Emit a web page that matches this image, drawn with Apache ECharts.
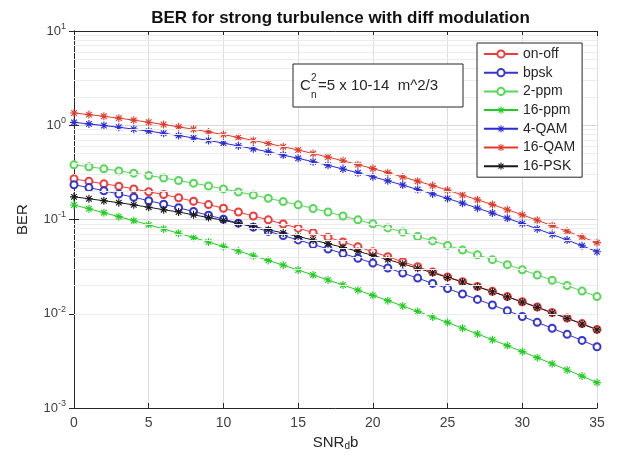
<!DOCTYPE html>
<html>
<head>
<meta charset="utf-8">
<script src="https://cdn.jsdelivr.net/npm/echarts@6/dist/echarts.min.js"></script>
<style>html,body{margin:0;padding:0;background:#fff}#c{width:621px;height:459px}</style>
</head>
<body>
<div id="c"></div>
<script>
const snr = [0,1,2,3,4,5,6,7,8,9,10,11,12,13,14,15,16,17,18,19,20,21,22,23,24,25,26,27,28,29,30,31,32,33,34,35];
const onOff = [0.270,0.254,0.239,0.226,0.211,0.197,0.184,0.170,0.156,0.144,0.1315,0.120,0.109,0.0991,0.0897,0.0810,0.0725,0.0648,0.0577,0.0513,0.0454,0.0403,0.0356,0.0315,0.0278,0.0246,0.0219,0.0195,0.0173,0.0152,0.0134,0.0118,0.0103,0.00902,0.00786,0.00682];
const bpsk = [0.234,0.218,0.2017,0.1865,0.1720,0.1583,0.1453,0.1331,0.1216,0.1109,0.1009,0.0915,0.0829,0.0748,0.0675,0.0607,0.0544,0.0487,0.0435,0.0388,0.0345,0.0306,0.0270,0.0239,0.0210,0.0185,0.0162,0.0142,0.0124,0.01077,0.00936,0.00811,0.00701,0.00605,0.00521,0.00447];
const ppm2 = [0.380,0.363,0.345,0.328,0.310,0.293,0.276,0.259,0.243,0.227,0.211,0.196,0.182,0.168,0.155,0.143,0.131,0.120,0.109,0.0991,0.0899,0.0814,0.0735,0.0661,0.0593,0.0531,0.0474,0.0422,0.0375,0.0332,0.0293,0.0258,0.0227,0.0199,0.0174,0.0152];
const ppm16 = [0.1426,0.1299,0.1181,0.1072,0.0971,0.0878,0.0793,0.0714,0.0643,0.0577,0.0517,0.0463,0.0413,0.0368,0.0328,0.0291,0.0258,0.0228,0.0202,0.0178,0.01567,0.01377,0.01208,0.01057,0.00924,0.00807,0.00702,0.00610,0.00530,0.00459,0.00396,0.00342,0.00295,0.00253,0.00218,0.00186];
const qam4 = [1.072,1.033,0.993,0.952,0.909,0.866,0.822,0.777,0.733,0.690,0.646,0.604,0.562,0.522,0.483,0.446,0.410,0.376,0.343,0.313,0.284,0.257,0.232,0.208,0.187,0.167,0.149,0.132,0.117,0.103,0.0907,0.0795,0.0695,0.0605,0.0526,0.0455];
const qam16 = [1.349,1.297,1.244,1.189,1.132,1.076,1.019,0.962,0.906,0.850,0.796,0.742,0.690,0.640,0.592,0.546,0.501,0.459,0.420,0.382,0.347,0.314,0.283,0.255,0.229,0.205,0.182,0.162,0.144,0.127,0.112,0.0982,0.0860,0.0750,0.0653,0.0568];
const psk16 = [0.174,0.166,0.158,0.151,0.143,0.135,0.127,0.120,0.112,0.105,0.0979,0.0910,0.0843,0.0780,0.0719,0.0661,0.0606,0.0554,0.0505,0.0459,0.0416,0.0376,0.0338,0.0304,0.0272,0.0243,0.0217,0.0193,0.0171,0.0151,0.0133,0.0117,0.0102,0.00894,0.00779,0.00676];
const seriesNames = ['on-off','bpsk','2-ppm','16-ppm','4-QAM','16-QAM','16-PSK'];
const minorGridValues = [0.002,0.003,0.004,0.005,0.006,0.007,0.008,0.009,0.02,0.03,0.04,0.05,0.06,0.07,0.08,0.09,0.2,0.3,0.4,0.5,0.6,0.7,0.8,0.9,2,3,4,5,6,7,8,9];

const FONT = "'Liberation Sans', Arial, Helvetica, sans-serif";
const STAR = 'path://M4.3 0L5.7 0L5.7 10L4.3 10Z M0 4.3L10 4.3L10 5.7L0 5.7Z M1.0 2.0L2.0 1.0L9.0 8.0L8.0 9.0Z M8.0 1.0L9.0 2.0L2.0 9.0L1.0 8.0Z';

function mk(name, data, color, star) {
  return {
    name: name, type: 'line', data: snr.map((x, i) => [x, data[i]]),
    symbol: star ? STAR : 'emptyCircle', symbolSize: star ? 8 : 7, symbolKeepAspect: true,
    showAllSymbol: true,
    lineStyle: { color: color, width: 1 },
    itemStyle: star ? { color: color } : { color: color, borderColor: color, borderWidth: 1 },
    z: 3, animation: false
  };
}

const chart = echarts.init(document.getElementById('c'), null, { renderer: 'canvas' });
const axisLineStyle = { lineStyle: { color: '#262626', width: 1 } };
chart.setOption({
  backgroundColor: '#ffffff',
  animation: false,
  textStyle: { fontFamily: FONT },
  title: {
    text: 'BER for strong turbulence with diff modulation',
    left: 335.5, textAlign: 'center', top: 5,
    textStyle: { fontFamily: FONT, fontSize: 17, fontWeight: 'bold', color: '#111' }
  },
  grid: { left: 74, right: 24, top: 31, bottom: 51, containLabel: false },
  legend: {
    data: seriesNames, orient: 'vertical', left: 477, top: 43, zlevel: 1, z: 10,
    backgroundColor: '#ffffff', borderColor: '#262626', borderWidth: 1,
    padding: [4, 7, 4, 6], itemWidth: 34, itemHeight: 9, itemGap: 4.7,
    textStyle: { fontFamily: FONT, fontSize: 14, color: '#262626', lineHeight: 14 }
  },
  xAxis: [{
    type: 'value', min: 0, max: 35, interval: 5, position: 'bottom',
    name: '{a|SNR}{s|d}{a|b}', nameLocation: 'middle', nameGap: 25,
    nameTextStyle: { rich: { a: { fontFamily: FONT, fontSize: 15, color: '#262626' }, s: { fontFamily: FONT, fontSize: 10, color: '#262626', padding: [8, 0, 0, 0] } } },
    axisLine: axisLineStyle, axisTick: { inside: true, length: 5, lineStyle: { color: '#262626' } },
    axisLabel: { fontFamily: FONT, fontSize: 14, color: '#404040', margin: 8 },
    splitLine: { show: true, lineStyle: { color: '#dedede', width: 1 } }
  }, {
    type: 'value', min: 0, max: 35, interval: 5, position: 'top',
    axisLine: axisLineStyle, axisTick: { inside: true, length: 5, lineStyle: { color: '#262626' } },
    axisLabel: { show: false }, splitLine: { show: false }
  }],
  yAxis: [{
    type: 'log', logBase: 10, min: 0.001, max: 10, position: 'left',
    name: 'BER', nameLocation: 'middle', nameGap: 44, nameRotate: 90,
    nameTextStyle: { fontFamily: FONT, fontSize: 15, color: '#262626' },
    axisLine: axisLineStyle, axisTick: { inside: true, length: 5, lineStyle: { color: '#262626' } },
    axisLabel: {
      margin: 8,
      formatter: v => '{b|10}{s|' + Math.round(Math.log10(v)) + '}',
      rich: { b: { fontFamily: FONT, fontSize: 13, color: '#404040' }, s: { fontFamily: FONT, fontSize: 9, color: '#404040', padding: [0, 0, 9, 0] } }
    },
    splitLine: { show: true, lineStyle: { color: '#d6d6d6', width: 1 } }
  }, {
    type: 'log', logBase: 10, min: 0.001, max: 10, position: 'right',
    axisLine: axisLineStyle, axisTick: { inside: true, length: 5, lineStyle: { color: '#262626' } },
    axisLabel: { show: false }, splitLine: { show: false }
  }],
  graphic: [
    { type: 'rect', zlevel: 1, shape: { x: 293, y: 64, width: 170, height: 43 }, style: { fill: '#fff', stroke: '#262626', lineWidth: 1 }, z: 100 },
    { type: 'text', zlevel: 1, x: 300, y: 86, style: { text: 'C', font: '15px ' + FONT, fill: '#262626', textVerticalAlign: 'middle' }, z: 101 },
    { type: 'text', zlevel: 1, x: 311, y: 78, style: { text: '2', font: '10px ' + FONT, fill: '#262626', textVerticalAlign: 'middle' }, z: 101 },
    { type: 'text', zlevel: 1, x: 311, y: 95, style: { text: 'n', font: '10px ' + FONT, fill: '#262626', textVerticalAlign: 'middle' }, z: 101 },
    { type: 'text', zlevel: 1, x: 318, y: 86, style: { text: '=5 x 10-14  m^2/3', font: '15px ' + FONT, fill: '#262626', textVerticalAlign: 'middle' }, z: 101 }
  ],
  series: [
    {
      name: 'minor', type: 'line', data: [], silent: true, z: 1,
      markLine: {
        silent: true, symbol: ['none', 'none'], label: { show: false }, animation: false,
        lineStyle: { color: '#ececec', type: 'solid', width: 1 },
        data: minorGridValues.map(v => ({ yAxis: v }))
      }
    },
    mk('on-off', onOff, '#ee3b3b', false),
    mk('bpsk', bpsk, '#3535d0', false),
    mk('2-ppm', ppm2, '#55d855', false),
    mk('16-ppm', ppm16, '#22cc22', true),
    mk('4-QAM', qam4, '#2a2ad8', true),
    mk('16-QAM', qam16, '#e03a2a', true),
    mk('16-PSK', psk16, '#1a1a1a', true)
  ]
});
</script>
</body>
</html>
